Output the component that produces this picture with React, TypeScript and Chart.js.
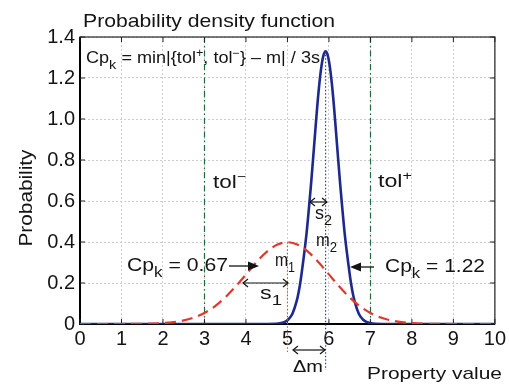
import React, { useEffect, useRef } from "react";
import { Chart, registerables } from "chart.js";

Chart.register(...registerables);

// ---- data ----
const xTickLabels = ["0", "1", "2", "3", "4", "5", "6", "7", "8", "9", "10"];
const yTickLabels = ["0", "0.2", "0.4", "0.6", "0.8", "1.0", "1.2", "1.4"];

// Broad (red, dashed) distribution, Cpk = 0.67
const redX = [0, 1, 1.5, 2, 2.25, 2.5, 2.75, 3, 3.25, 3.5, 3.75, 4, 4.25, 4.5, 4.75, 5, 5.25, 5.5, 5.75, 6, 6.25, 6.5, 6.75, 7, 7.25, 7.5, 7.75, 8, 8.5, 9, 10];
const redY = [0, 0.0001, 0.0009, 0.0044, 0.0091, 0.0175, 0.0317, 0.054, 0.0863, 0.1295, 0.1826, 0.242, 0.3011, 0.3521, 0.3867, 0.3989, 0.3867, 0.3521, 0.3011, 0.242, 0.1826, 0.1295, 0.0863, 0.054, 0.0317, 0.0175, 0.0091, 0.0044, 0.0009, 0.0001, 0];

// Narrow (blue, solid) distribution, Cpk = 1.22
const blueX = [0, 4.52, 4.72, 4.82, 4.92, 5.02, 5.12, 5.22, 5.27, 5.32, 5.37, 5.42, 5.47, 5.52, 5.57, 5.62, 5.67, 5.72, 5.77, 5.82, 5.87, 5.92, 5.97, 6.02, 6.07, 6.12, 6.17, 6.22, 6.27, 6.32, 6.37, 6.42, 6.47, 6.52, 6.57, 6.62, 6.72, 6.82, 6.92, 7.02, 7.12, 7.32, 10];
const blueY = [0, 0, 0.0008, 0.003, 0.009, 0.022, 0.05, 0.11, 0.155, 0.215, 0.29, 0.37, 0.46, 0.57, 0.685, 0.81, 0.94, 1.065, 1.1735, 1.258, 1.3114, 1.3298, 1.3114, 1.258, 1.1735, 1.065, 0.94, 0.81, 0.685, 0.57, 0.46, 0.37, 0.29, 0.215, 0.155, 0.11, 0.05, 0.022, 0.009, 0.003, 0.0008, 0, 0];

const tolMinus = 3;
const tolPlus = 7;
const m1 = 5;
const m2 = 5.92;
const peak1 = 0.399;
const peak2 = 1.33;

const FONT = "'Liberation Sans', Arial, Helvetica, sans-serif";
const INK = "#141414";

type Part = [string, ("n" | "sub" | "sup")?];

function rich(ctx: CanvasRenderingContext2D, parts: Part[], x: number, y: number, size: number, targetW?: number) {
  const sz = (k?: string) => (k === "sub" ? size * 0.8 : k === "sup" ? size * 0.7 : size);
  let total = 0;
  const widths: number[] = [];
  for (const [t, k] of parts) {
    ctx.font = `${sz(k)}px ${FONT}`;
    const w = ctx.measureText(t).width;
    widths.push(w);
    total += w;
  }
  const sx = targetW ? targetW / total : 1;
  ctx.save();
  ctx.translate(x, y);
  ctx.scale(sx, 1);
  ctx.fillStyle = INK;
  ctx.textBaseline = "alphabetic";
  ctx.textAlign = "left";
  let cx = 0;
  parts.forEach(([t, k], i) => {
    ctx.font = `${sz(k)}px ${FONT}`;
    const dy = k === "sub" ? size * 0.33 : k === "sup" ? -size * 0.38 : 0;
    ctx.fillText(t, cx, dy);
    cx += widths[i];
  });
  ctx.restore();
}

function openHead(ctx: CanvasRenderingContext2D, x: number, y: number, dir: number, s = 5) {
  ctx.beginPath();
  ctx.moveTo(x - dir * s, y - s * 0.8);
  ctx.lineTo(x, y);
  ctx.lineTo(x - dir * s, y + s * 0.8);
  ctx.stroke();
}

function doubleArrow(ctx: CanvasRenderingContext2D, x1: number, x2: number, y: number) {
  ctx.save();
  ctx.strokeStyle = INK;
  ctx.lineWidth = 1.2;
  ctx.setLineDash([]);
  ctx.beginPath();
  ctx.moveTo(x1, y);
  ctx.lineTo(x2, y);
  ctx.stroke();
  openHead(ctx, x1, y, -1);
  openHead(ctx, x2, y, 1);
  ctx.restore();
}

function filledArrow(ctx: CanvasRenderingContext2D, from: number, to: number, y: number) {
  const dir = to > from ? 1 : -1;
  ctx.save();
  ctx.strokeStyle = INK;
  ctx.fillStyle = INK;
  ctx.lineWidth = 1.3;
  ctx.setLineDash([]);
  ctx.beginPath();
  ctx.moveTo(from, y);
  ctx.lineTo(to - dir * 8, y);
  ctx.stroke();
  ctx.beginPath();
  ctx.moveTo(to, y);
  ctx.lineTo(to - dir * 11, y - 4.5);
  ctx.lineTo(to - dir * 11, y + 4.5);
  ctx.closePath();
  ctx.fill();
  ctx.restore();
}

const decor = {
  id: "decor",
  beforeDatasetsDraw(chart: any) {
    const { ctx, chartArea: a, scales } = chart;
    const xs = scales.x;
    const ys = scales.y;
    ctx.save();
    ctx.strokeStyle = "#1f6b3a";
    ctx.lineWidth = 1.2;
    ctx.setLineDash([6, 3, 1.5, 3]);
    for (const v of [tolMinus, tolPlus]) {
      const px = Math.round(xs.getPixelForValue(v)) + 0.5;
      ctx.beginPath();
      ctx.moveTo(px, a.top);
      ctx.lineTo(px, a.bottom);
      ctx.stroke();
    }
    ctx.setLineDash([]);
    // box
    ctx.strokeStyle = "#333";
    ctx.lineWidth = 1.3;
    ctx.strokeRect(a.left, a.top, a.right - a.left, a.bottom - a.top);
    ctx.strokeStyle = "#000";
    ctx.lineWidth = 2;
    ctx.beginPath();
    ctx.moveTo(a.left, a.top);
    ctx.lineTo(a.left, a.bottom);
    ctx.lineTo(a.right, a.bottom);
    ctx.stroke();
    // inward ticks
    ctx.lineWidth = 1;
    ctx.strokeStyle = "#222";
    for (let i = 0; i < xTickLabels.length; i++) {
      const p = xs.getPixelForValue(i);
      ctx.beginPath();
      ctx.moveTo(p, a.top);
      ctx.lineTo(p, a.top + 5);
      ctx.moveTo(p, a.bottom);
      ctx.lineTo(p, a.bottom - 5);
      ctx.stroke();
    }
    for (let i = 0; i < yTickLabels.length; i++) {
      const p = ys.getPixelForValue(i * 0.2);
      ctx.beginPath();
      ctx.moveTo(a.left, p);
      ctx.lineTo(a.left + 5, p);
      ctx.moveTo(a.right, p);
      ctx.lineTo(a.right - 5, p);
      ctx.stroke();
    }
    ctx.restore();
  },
  afterDatasetsDraw(chart: any) {
    const { ctx, scales } = chart;
    const xs = scales.x;
    const ys = scales.y;
    ctx.save();
    // dotted mean lines
    ctx.lineWidth = 1.1;
    ctx.setLineDash([1.5, 2]);
    ctx.strokeStyle = "#c8553a";
    let px = xs.getPixelForValue(m1);
    ctx.beginPath();
    ctx.moveTo(px, ys.getPixelForValue(peak1));
    ctx.lineTo(px, 352);
    ctx.stroke();
    ctx.strokeStyle = "#2a3596";
    px = xs.getPixelForValue(m2);
    ctx.beginPath();
    ctx.moveTo(px, ys.getPixelForValue(peak2));
    ctx.lineTo(px, 370);
    ctx.stroke();
    ctx.setLineDash([]);
    ctx.restore();

    // texts
    rich(ctx, [["Probability density function"]], 83, 27, 19, 252);
    ctx.save();
    ctx.translate(32, 198);
    ctx.rotate(-Math.PI / 2);
    rich(ctx, [["Probability"]], -97 / 2, 0, 19, 97);
    ctx.restore();

    rich(ctx, [["Cp"], ["k", "sub"], [" = min|{tol"], ["+", "sup"], [", tol"], ["\u2212", "sup"], ["} \u2013 m| / 3s"]], 86, 63, 17, 234);
    rich(ctx, [["tol"], ["\u2212", "sup"]], 213, 188, 18, 33);
    rich(ctx, [["tol"], ["+", "sup"]], 378, 187, 18, 34);

    doubleArrow(ctx, 310, 327, 202);
    rich(ctx, [["s"], ["2", "sub"]], 315, 219, 18, 17);
    rich(ctx, [["m"], ["2", "sub"]], 316, 246, 18, 21);
    rich(ctx, [["m"], ["1", "sub"]], 275, 266, 18, 20);

    rich(ctx, [["Cp"], ["k", "sub"], [" = 0.67"]], 127, 271, 18, 101);
    filledArrow(ctx, 229, 259, 266);
    doubleArrow(ctx, 243, 288, 283);
    rich(ctx, [["s"], ["1", "sub"]], 260, 299, 18, 22);

    rich(ctx, [["Cp"], ["k", "sub"], [" = 1.22"]], 385, 272, 18, 100);
    filledArrow(ctx, 374, 350, 267);

    doubleArrow(ctx, 293, 325, 350);
    rich(ctx, [["\u0394m"]], 293, 372, 17, 30);
    rich(ctx, [["Property value"]], 367, 379, 17, 135);
  },
};

export default function App() {
  const ref = useRef<HTMLCanvasElement | null>(null);
  useEffect(() => {
    document.body.style.margin = "0";
    const canvas = ref.current!;
    const chart = new Chart(canvas, {
      type: "line",
      data: {
        datasets: [
          {
            label: "Cpk 0.67",
            data: redX.map((x, i) => ({ x, y: redY[i] })),
            borderColor: "#e0392b",
            borderWidth: 2.2,
            borderDash: [11, 6],
            pointRadius: 0,
            fill: false,
            cubicInterpolationMode: "monotone",
          },
          {
            label: "Cpk 1.22",
            data: blueX.map((x, i) => ({ x, y: blueY[i] })),
            borderColor: "#1d2a8c",
            borderWidth: 2.6,
            pointRadius: 0,
            fill: false,
            cubicInterpolationMode: "monotone",
          },
        ],
      },
      options: {
        responsive: false,
        animation: false,
        devicePixelRatio: 1,
        layout: { padding: { top: 37, right: 12, left: 0, bottom: 0 } },
        plugins: { legend: { display: false }, tooltip: { enabled: false }, title: { display: false } },
        scales: {
          x: {
            type: "linear",
            min: 0,
            max: 10,
            afterFit: (s: any) => {
              s.height = 61;
            },
            ticks: {
              stepSize: 1,
              autoSkip: false,
              maxRotation: 0,
              padding: 3,
              color: INK,
              font: { family: FONT, size: 20 },
              callback: (_v: any, i: number) => xTickLabels[i],
            },
            grid: { color: "#cdcdcd", lineWidth: 1, drawTicks: false },
            border: { display: false, dash: [2, 2] },
          },
          y: {
            type: "linear",
            min: 0,
            max: 1.4,
            afterFit: (s: any) => {
              s.width = 80;
            },
            ticks: {
              stepSize: 0.2,
              autoSkip: false,
              padding: 5,
              color: INK,
              font: { family: FONT, size: 20 },
              callback: (_v: any, i: number) => yTickLabels[i],
            },
            grid: { color: "#cdcdcd", lineWidth: 1, drawTicks: false },
            border: { display: false, dash: [2, 2] },
          },
        },
      },
      plugins: [decor],
    } as any);
    return () => chart.destroy();
  }, []);
  return (
    <div style={{ width: 509, height: 385, background: "#fff" }}>
      <canvas ref={ref} width={509} height={385} style={{ display: "block", width: 509, height: 385 }} />
    </div>
  );
}
